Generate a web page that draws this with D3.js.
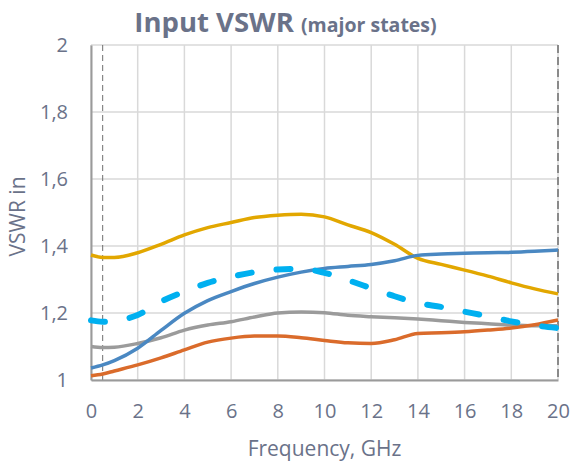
<!DOCTYPE html>
<head>
  <style>
    body { margin: 0; background: #fff; }
    text { font-family: "Open Sans", sans-serif; fill: #6a7289; }
  </style>
<title>Input VSWR</title></head>
<body>
  <script src="https://cdn.jsdelivr.net/npm/d3@7/dist/d3.min.js"></script>
  <script>
    // data
    var freq = [0, 0.5, 1, 2, 3, 4, 5, 6, 7, 8, 9, 10, 11, 12, 13, 14, 15, 16, 17, 18, 19, 20];
    var yellow = [1.373, 1.366, 1.366, 1.38, 1.405, 1.433, 1.455, 1.47, 1.485, 1.492, 1.495, 1.487, 1.463, 1.44, 1.405, 1.363, 1.345, 1.328, 1.31, 1.29, 1.272, 1.257];
    var blue = [1.036, 1.045, 1.058, 1.095, 1.148, 1.199, 1.237, 1.264, 1.288, 1.307, 1.322, 1.333, 1.339, 1.345, 1.356, 1.372, 1.376, 1.378, 1.38, 1.381, 1.384, 1.388];
    var gray = [1.10, 1.097, 1.098, 1.109, 1.126, 1.149, 1.164, 1.174, 1.188, 1.2, 1.203, 1.201, 1.193, 1.189, 1.186, 1.182, 1.177, 1.172, 1.168, 1.164, 1.162, 1.162];
    var orange = [1.013, 1.018, 1.027, 1.045, 1.066, 1.09, 1.113, 1.125, 1.131, 1.131, 1.126, 1.118, 1.111, 1.109, 1.12, 1.139, 1.141, 1.144, 1.149, 1.155, 1.165, 1.179];
    var lightblue = [1.178, 1.174, 1.176, 1.194, 1.234, 1.264, 1.29, 1.308, 1.322, 1.33, 1.332, 1.32, 1.298, 1.274, 1.25, 1.23, 1.218, 1.204, 1.19, 1.175, 1.163, 1.155];
    var xTicks = [0, 2, 4, 6, 8, 10, 12, 14, 16, 18, 20];
    var yTicks = [1, 1.2, 1.4, 1.6, 1.8, 2];
    var markerFreq = [0.5, 20];

    var margin = {top: 45, right: 13, bottom: 84, left: 91};
    var W = 571, H = 464;
    var width = W - margin.left - margin.right,
        height = H - margin.top - margin.bottom;

    var x = d3.scaleLinear().domain([0, 20]).range([0, width]),
        y = d3.scaleLinear().domain([1, 2]).range([height, 0]);

    var svg = d3.select("body").append("svg").attr("width", W).attr("height", H);
    var g = svg.append("g").attr("transform", "translate(" + margin.left + "," + margin.top + ")");

    // grid
    g.append("g").selectAll("line").data(xTicks).join("line")
      .attr("x1", d => x(d)).attr("x2", d => x(d)).attr("y1", 0).attr("y2", height)
      .attr("stroke", "#d9d9d9").attr("stroke-width", 1.5);
    g.append("g").selectAll("line").data(yTicks).join("line")
      .attr("x1", 0).attr("x2", width).attr("y1", d => y(d)).attr("y2", d => y(d))
      .attr("stroke", "#d9d9d9").attr("stroke-width", 1.5);

    // dashed markers
    g.append("g").selectAll("line").data(markerFreq).join("line")
      .attr("x1", d => x(d)).attr("x2", d => x(d)).attr("y1", 0).attr("y2", height)
      .attr("stroke", (d, i) => i ? "#8a8a8a" : "#6e6e6e")
      .attr("stroke-width", (d, i) => i ? 2 : 1)
      .attr("stroke-dasharray", (d, i) => i ? "8,4" : "6,4");

    // axes
    var xAx = g.append("g").attr("transform", "translate(0," + height + ")")
      .call(d3.axisBottom(x).tickValues(xTicks).tickSize(0).tickPadding(24));
    xAx.select(".domain").attr("stroke", "#9a9a9a").attr("stroke-width", 2);
    xAx.selectAll("text").style("font-size", "20px").attr("fill", "#6a7289");

    var yAx = g.append("g")
      .call(d3.axisLeft(y).tickValues(yTicks).tickSize(0).tickPadding(23)
        .tickFormat(d => String(d).replace(".", ",")));
    yAx.select(".domain").attr("stroke", "#9a9a9a").attr("stroke-width", 2);
    yAx.selectAll("text").style("font-size", "20px").attr("fill", "#6a7289");

    // series
    var line = d3.line().x((d, i) => x(freq[i])).y(d => y(d)).curve(d3.curveMonotoneX);
    var series = [
      {v: yellow, c: "#e2a700", w: 3.5},
      {v: gray, c: "#9b9b9b", w: 3.5},
      {v: orange, c: "#da6b2b", w: 3.5},
      {v: blue, c: "#4a88c2", w: 3.5},
      {v: lightblue, c: "#00b0f0", w: 6, dash: "14,25"}
    ];
    g.append("g").selectAll("path").data(series).join("path")
      .attr("d", d => line(d.v))
      .attr("fill", "none")
      .attr("stroke", d => d.c)
      .attr("stroke-width", d => d.w)
      .attr("stroke-linecap", d => d.dash ? "round" : "butt")
      .attr("stroke-dasharray", d => d.dash || null);

    // labels
    svg.append("text").attr("x", margin.left + width / 2).attr("y", 456)
      .attr("text-anchor", "middle").style("font-size", "21px").text("Frequency, GHz");
    svg.append("text").attr("transform", "translate(25," + (margin.top + height / 2 + 4) + ") rotate(-90)")
      .attr("text-anchor", "middle").style("font-size", "21px").text("VSWR in");

    var title = svg.append("text").attr("x", W / 2).attr("y", 32)
      .attr("text-anchor", "middle").style("font-weight", "bold").attr("fill", "#646c84");
    title.append("tspan").style("font-size", "27.5px").text("Input VSWR ");
    title.append("tspan").style("font-size", "19.5px").text("(major states)");
  </script>
</body>
